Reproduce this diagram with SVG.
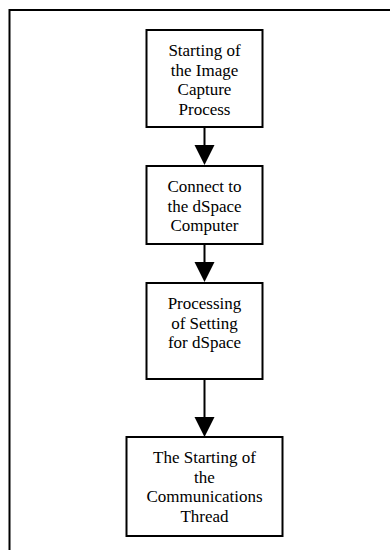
<svg xmlns="http://www.w3.org/2000/svg" width="390" height="550" viewBox="0 0 390 550">
  <defs>
    <style>
      .frame { fill: none; stroke: #000; stroke-width: 2; }
      .box { fill: #fff; stroke: #000; stroke-width: 2; }
      .label { font-size: 17px; fill: #000; text-anchor: middle; }
      .edge { stroke: #000; stroke-width: 2; fill: none; }
      .head { fill: #000; stroke: none; }
    </style>
  </defs>
  <rect width="390" height="550" fill="#fff"/>
  <!-- page border, running off the right and bottom edges -->
  <path class="frame" d="M9.5,552 V10 H392"/>

  <g id="connectors">
    <line class="edge" x1="204.5" y1="127" x2="204.5" y2="146"/>
    <polygon class="head" points="194.5,145 214.5,145 204.5,165"/>
    <line class="edge" x1="204.5" y1="244" x2="204.5" y2="263"/>
    <polygon class="head" points="194.5,262 214.5,262 204.5,282"/>
    <line class="edge" x1="204.5" y1="379" x2="204.5" y2="418"/>
    <polygon class="head" points="194.5,417 214.5,417 204.5,437"/>
  </g>

  <g font-family="Liberation Serif, DejaVu Serif, serif">
    <g id="start-capture">
      <rect class="box" x="146.5" y="30" width="116" height="97"/>
      <text class="label" x="204.5" y="56">Starting of</text>
      <text class="label" x="204.5" y="75.5">the Image</text>
      <text class="label" x="204.5" y="95">Capture</text>
      <text class="label" x="204.5" y="114.5">Process</text>
    </g>

    <g id="connect-dspace">
      <rect class="box" x="146.5" y="166" width="116" height="78"/>
      <text class="label" x="204.5" y="192">Connect to</text>
      <text class="label" x="204.5" y="211.5">the dSpace</text>
      <text class="label" x="204.5" y="231">Computer</text>
    </g>

    <g id="process-settings">
      <rect class="box" x="146.5" y="283" width="116" height="96"/>
      <text class="label" x="204.5" y="309">Processing</text>
      <text class="label" x="204.5" y="328.5">of Setting</text>
      <text class="label" x="204.5" y="348">for dSpace</text>
    </g>

    <g id="start-comms-thread">
      <rect class="box" x="126.5" y="437" width="156" height="99"/>
      <text class="label" x="204.5" y="463">The Starting of</text>
      <text class="label" x="204.5" y="482.5">the</text>
      <text class="label" x="204.5" y="502">Communications</text>
      <text class="label" x="204.5" y="521.5">Thread</text>
    </g>
  </g>
</svg>
